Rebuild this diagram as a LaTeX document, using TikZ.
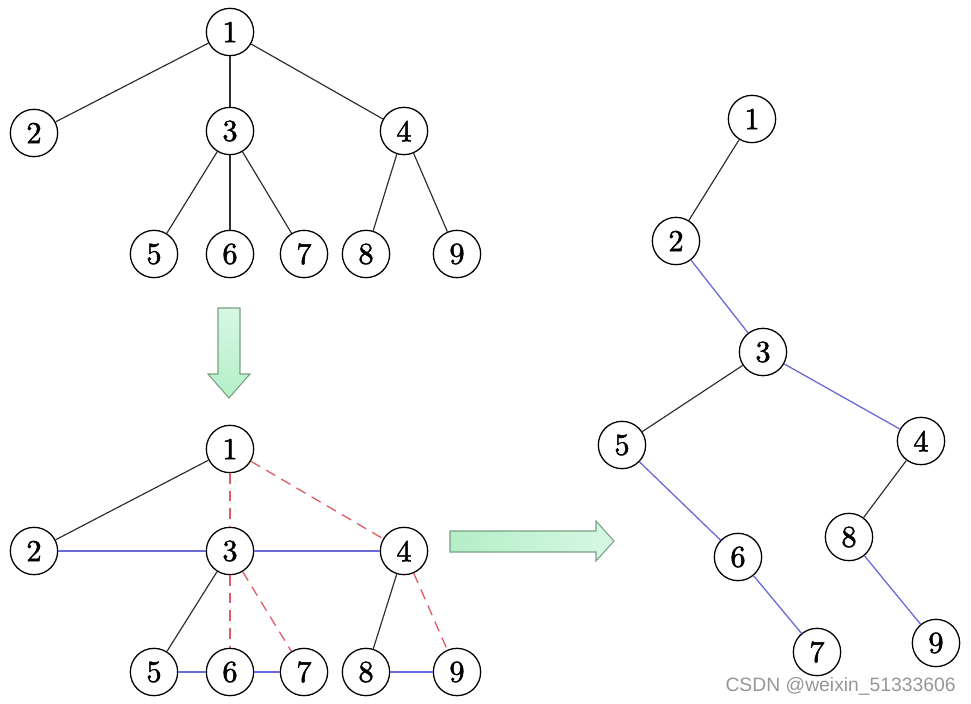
\documentclass[tikz,border=0pt]{standalone}
\usepackage{fontspec}
\newfontfamily\wmfont{Liberation Sans}
\newfontfamily\nodefont[FakeBold=1.6]{lmroman10-regular.otf}
\definecolor{edgeblack}{RGB}{45,45,45}
\definecolor{edgeblue}{RGB}{105,105,215}
\definecolor{edgered}{RGB}{222,90,100}
\definecolor{arrowfill}{RGB}{180,238,200}
\definecolor{arrowlight}{RGB}{215,248,228}
\definecolor{arrowdraw}{RGB}{120,160,130}
\definecolor{wmgray}{RGB}{150,150,150}
\tikzset{
  vtx/.style={circle,draw=black,line width=1.1pt,fill=white,minimum size=1.42cm,inner sep=0pt,font=\nodefont\fontsize{26}{28}\selectfont},
  tedge/.style={draw=edgeblack,line width=1pt},
  bedge/.style={draw=edgeblue,line width=1.1pt},
  redge/.style={draw=edgered,line width=1.1pt,dash pattern=on 9pt off 6pt},
  bigarrow/.style={draw=arrowdraw,line width=0.9pt,line join=miter},
}
\begin{document}
\begin{tikzpicture}[x=0.03cm,y=-0.03cm]
\useasboundingbox (0,0) rectangle (971,704);
% top tree
\node[vtx] (t1) at (230,32) {1};
\node[vtx] (t2) at (34,133) {2};
\node[vtx] (t3) at (230,131) {3};
\node[vtx] (t4) at (404,131) {4};
\node[vtx] (t5) at (154,254) {5};
\node[vtx] (t6) at (230,254) {6};
\node[vtx] (t7) at (304,254) {7};
\node[vtx] (t8) at (366,254) {8};
\node[vtx] (t9) at (457,254) {9};
\draw[tedge] (t1) -- (t2);
\draw[tedge] (t1) -- (t3);
\draw[tedge] (t1) -- (t4);
\draw[tedge] (t3) -- (t5);
\draw[tedge] (t3) -- (t6);
\draw[tedge] (t3) -- (t7);
\draw[tedge] (t4) -- (t8);
\draw[tedge] (t4) -- (t9);
% down arrow
\draw[bigarrow,top color=arrowlight,bottom color=arrowfill] (218,308) -- (240,308) -- (240,374) -- (250,374) -- (229,398) -- (208,374) -- (218,374) -- cycle;
% bottom tree
\node[vtx] (b1) at (230,449) {1};
\node[vtx] (b2) at (34,551) {2};
\node[vtx] (b3) at (230,551) {3};
\node[vtx] (b4) at (404,551) {4};
\node[vtx] (b5) at (154,672) {5};
\node[vtx] (b6) at (230,672) {6};
\node[vtx] (b7) at (304,672) {7};
\node[vtx] (b8) at (366,672) {8};
\node[vtx] (b9) at (457,672) {9};
\draw[tedge] (b1) -- (b2);
\draw[redge] (b1) -- (b3);
\draw[redge] (b1) -- (b4);
\draw[bedge] (b2) -- (b3);
\draw[bedge] (b3) -- (b4);
\draw[tedge] (b3) -- (b5);
\draw[redge] (b3) -- (b6);
\draw[redge] (b3) -- (b7);
\draw[tedge] (b4) -- (b8);
\draw[redge] (b4) -- (b9);
\draw[bedge] (b5) -- (b6);
\draw[bedge] (b6) -- (b7);
\draw[bedge] (b8) -- (b9);
% right arrow
\draw[bigarrow,left color=arrowfill,right color=arrowlight] (450,531) -- (596,531) -- (596,521) -- (614,541) -- (596,561) -- (596,552) -- (450,552) -- cycle;
% right tree
\node[vtx] (r1) at (752,119) {1};
\node[vtx] (r2) at (676,241) {2};
\node[vtx] (r3) at (763,352) {3};
\node[vtx] (r4) at (921,441) {4};
\node[vtx] (r5) at (622,445) {5};
\node[vtx] (r6) at (738,557) {6};
\node[vtx] (r7) at (817,652) {7};
\node[vtx] (r8) at (849,537) {8};
\node[vtx] (r9) at (936,643) {9};
\draw[tedge] (r1) -- (r2);
\draw[bedge] (r2) -- (r3);
\draw[tedge] (r3) -- (r5);
\draw[bedge] (r3) -- (r4);
\draw[bedge] (r5) -- (r6);
\draw[bedge] (r6) -- (r7);
\draw[tedge] (r4) -- (r8);
\draw[bedge] (r8) -- (r9);
% watermark
\node[anchor=east,text=wmgray,font=\wmfont\fontsize{16.5}{18}\selectfont,inner sep=0pt] (wm) at (956,686) {CSDN @weixin\_51333606};
\end{tikzpicture}
\end{document}
